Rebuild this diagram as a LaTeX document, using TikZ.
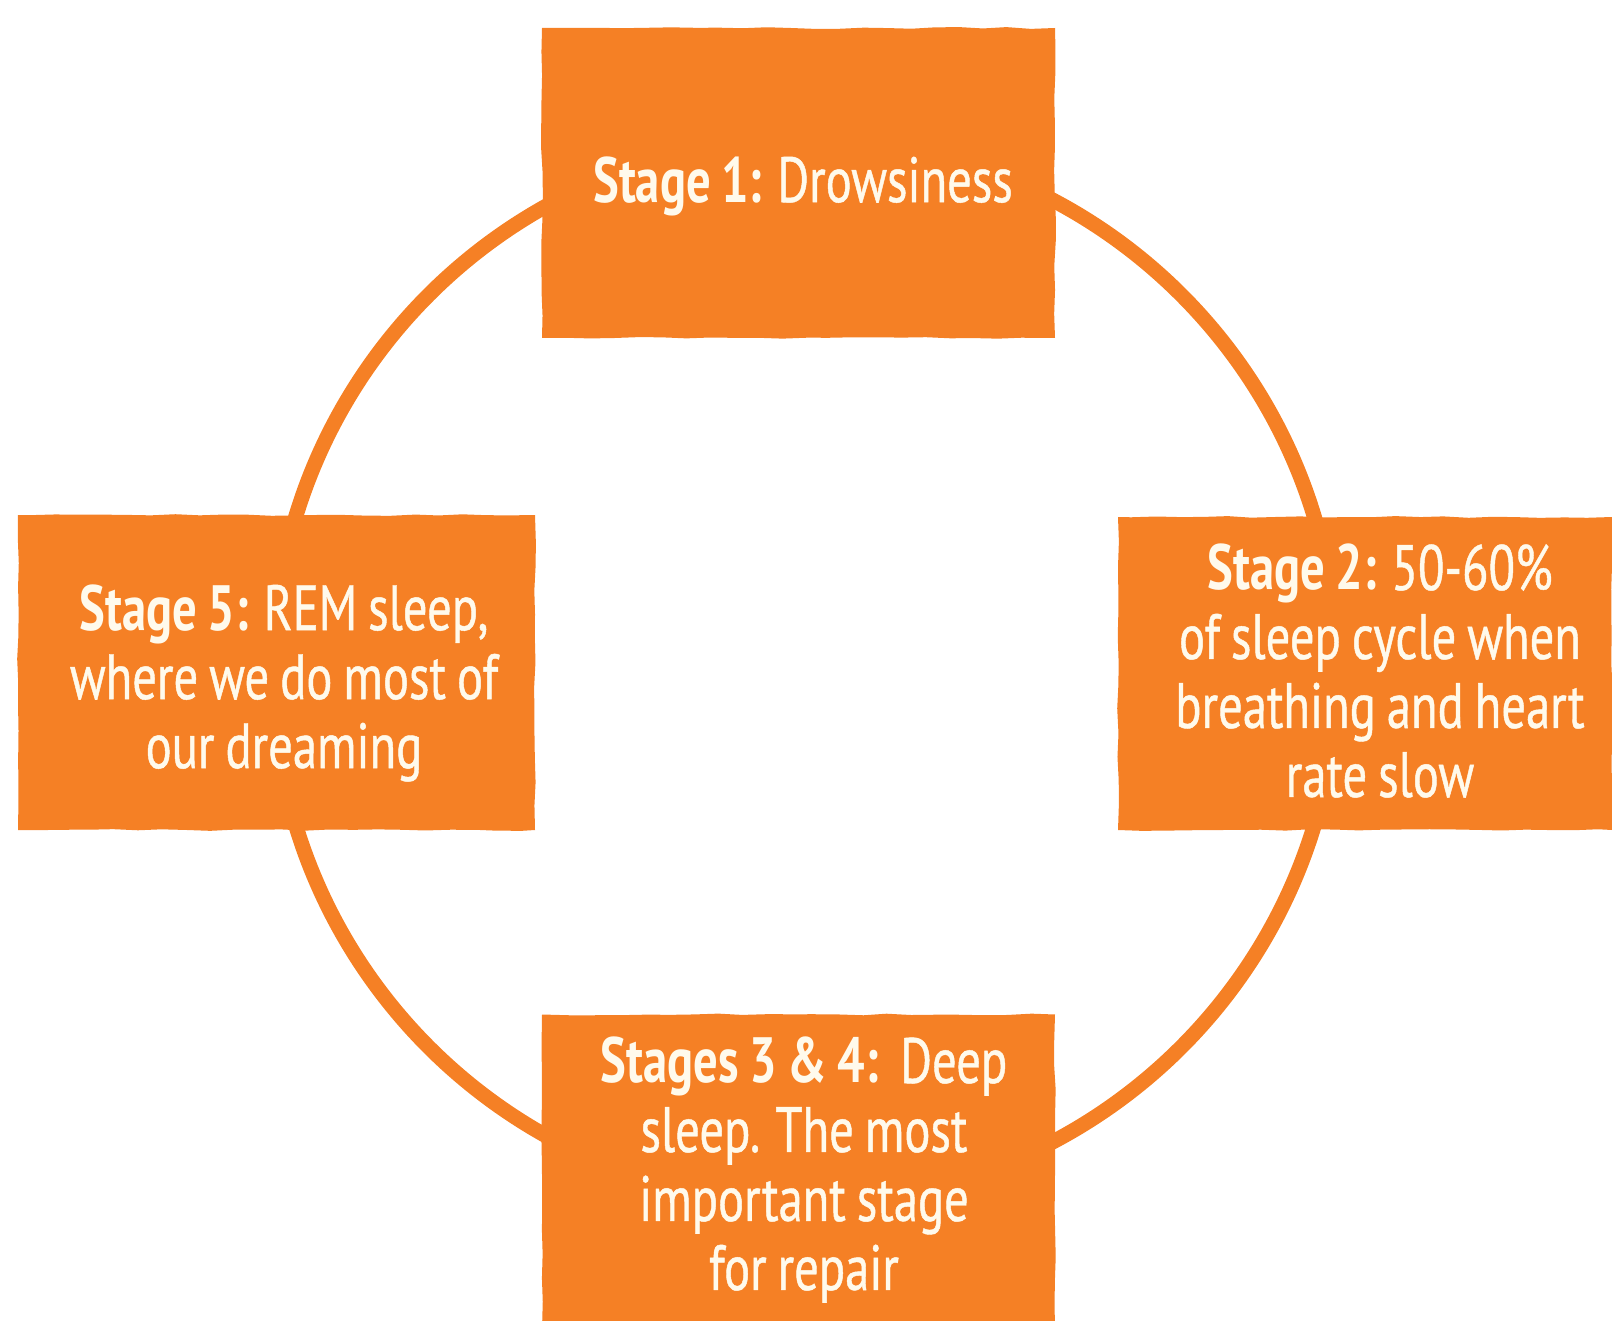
\documentclass[tikz,border=0pt]{standalone}
\usepackage{fontspec}
\usetikzlibrary{decorations.pathmorphing}
\setmainfont{PT Sans}[FakeStretch=0.76,WordSpace=0.85,UprightFeatures={FakeBold=0.7}]
\definecolor{sorange}{RGB}{245,128,37}
\definecolor{cream}{RGB}{255,250,236}
\begin{document}
\begin{tikzpicture}[x=0.5pt,y=-0.5pt,
  stagebox/.style={rectangle, fill=sorange, draw=none, inner sep=0pt,
    decorate, decoration={random steps, segment length=12pt, amplitude=0.45pt}},
  stagetext/.style={text=cream, align=center, inner sep=0pt,
    font=\fontsize{32}{34.5}\selectfont},
  ring/.style={draw=sorange, line width=7.5pt}]
\pgfmathsetseed{7}
\useasboundingbox (0,0) rectangle (1612,1321);
\coordinate (c) at (805,671);
\draw[ring] (c) circle [radius=266pt];
% boxes
\node[stagebox, minimum width=256.5pt, minimum height=155pt] (b1) at (798.5,183) {};
\node[stagebox, minimum width=247pt, minimum height=156.5pt] (b2) at (1365,673.5) {};
\node[stagebox, minimum width=256.5pt, minimum height=157.5pt] (b3) at (798.5,1172) {};
\node[stagebox, minimum width=258.5pt, minimum height=157.5pt] (b5) at (276.5,672.5) {};
% texts
\node[stagetext] (t1) at (803,186) {\textbf{Stage 1:} Drowsiness};
\node[stagetext] (t2) at (1380,671) {\textbf{Stage 2:} 50-60\%\\of sleep cycle when\\breathing and heart\\rate slow};
\node[stagetext] (t3) at (804,1170) {\textbf{Stages 3 \& 4:}\ \ Deep\\sleep. The most\\important stage\\for repair};
\node[stagetext] (t5) at (284,683) {\textbf{Stage 5:} REM sleep,\\where we do most of\\our dreaming};
\end{tikzpicture}
\end{document}
